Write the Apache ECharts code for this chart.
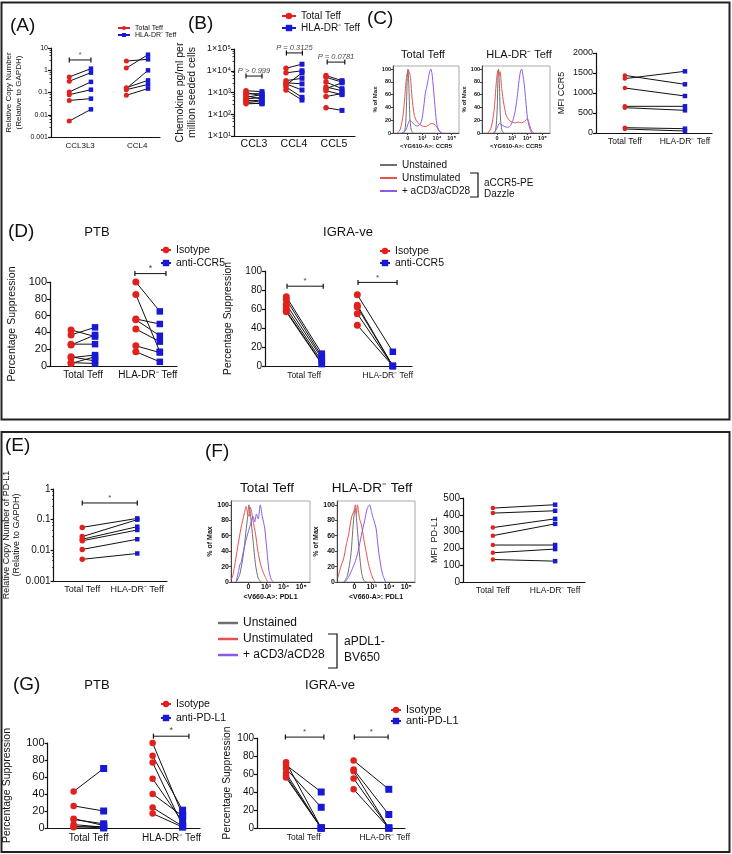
<!DOCTYPE html>
<html><head><meta charset="utf-8">
<script src="https://cdn.jsdelivr.net/npm/echarts@6/dist/echarts.min.js"></script>
<style>html,body{margin:0;padding:0;background:#fff}#c{width:732px;height:854px}</style>
</head><body><div id="c"></div>
<script>
// ---------------- DATA ----------------
const catA = ['CCL3L3', 'CCL4'];
const aCCL3L3Total = [0.50, 0.32, 0.105, 0.08, 0.044, 0.0052];
const aCCL3L3HLA   = [1.18, 0.78, 0.30, 0.134, 0.053, 0.0175];
const aCCL4Total   = [2.6, 1.26, 0.165, 0.15, 0.134, 0.075];
const aCCL4HLA     = [3.1, 5.0, 0.35, 0.99, 0.23, 0.15];

const catB = ['CCL3', 'CCL4', 'CCL5'];
const bCCL3Total = [1200, 1000, 850, 700, 600, 500, 450, 400, 350, 300];
const bCCL3HLA   = [1100, 700, 900, 500, 800, 600, 350, 450, 300, 320];
const bCCL4Total = [13000, 8000, 3500, 2800, 2500, 2200, 1800, 1300];
const bCCL4HLA   = [20000, 10000, 4500, 2500, 1300, 8000, 600, 450];
const bCCL5Total = [6000, 5000, 3000, 1800, 1500, 1200, 650, 200];
const bCCL5HLA   = [3500, 3000, 1500, 1200, 2800, 800, 900, 150];
const bPText = ['P > 0.999', 'P = 0.3125', 'P = 0.0781'];

const catTeff = ['Total Teff', 'HLA-DR⁻ Teff'];
const cMfiTotal = [1440, 1360, 1125, 667, 633, 133, 100];
const cMfiHLA   = [1217, 1542, 925, 667, 567, 108, 50];

const histTicks = ['0', '10³', '10⁴', '10⁵'];
const cTotGray   = [[0.6,0],[0.8,3],[0.9,30],[0.97,85],[1.02,100],[1.08,75],[1.15,25],[1.25,4],[1.4,0]];
const cTotRed    = [[0.3,0],[0.5,6],[0.7,30],[0.85,70],[0.95,92],[1.05,98],[1.12,95],[1.2,85],[1.3,55],[1.45,28],[1.6,19],[1.8,14],[2.0,11],[2.2,10],[2.4,12],[2.6,15],[2.8,14],[3.0,9],[3.15,3],[3.3,0]];
const cTotPurple = [[0.7,0],[0.9,6],[1.05,16],[1.15,20],[1.3,17],[1.5,12],[1.7,11],[1.9,16],[2.0,25],[2.1,42],[2.2,62],[2.3,72],[2.4,84],[2.5,96],[2.58,100],[2.66,93],[2.75,72],[2.85,45],[2.95,20],[3.05,8],[3.2,2],[3.35,0]];
const cHlaGray   = [[0.75,0],[0.9,4],[1.0,35],[1.06,90],[1.1,100],[1.15,75],[1.22,25],[1.32,4],[1.45,0]];
const cHlaRed    = [[0.4,0],[0.6,8],[0.8,35],[0.95,80],[1.05,98],[1.12,90],[1.2,96],[1.3,70],[1.45,45],[1.6,28],[1.8,20],[2.0,17],[2.2,16],[2.4,17],[2.6,16],[2.8,18],[3.0,22],[3.15,12],[3.3,3],[3.45,0]];
const cHlaPurple = [[0.8,0],[1.0,8],[1.15,15],[1.3,13],[1.5,10],[1.7,9],[1.9,12],[2.05,20],[2.2,35],[2.35,60],[2.45,82],[2.55,97],[2.62,100],[2.7,92],[2.8,75],[2.9,50],[3.0,25],[3.15,8],[3.3,0]];

const dPtbTotalIso  = [43, 37, 26, 25, 11, 10, 4, 3];
const dPtbTotalAnti = [35, 46, 26, 37, 6, 13, 3, 11];
const dPtbHlaIso    = [100, 85, 56, 55, 44, 24, 17];
const dPtbHlaAnti   = [65, 17, 50, 36, 29, 16, 5];
const dIgraTotalIso  = [73, 70, 65, 61, 58, 57];
const dIgraTotalAnti = [13, 10, 8, 5, 3, 2];
const dIgraHlaIso    = [75, 64, 62, 55, 43];
const dIgraHlaAnti   = [15, 0, 0, 0, 0];

const eTotal = [0.056, 0.028, 0.023, 0.0205, 0.0107, 0.0051];
const eHLA   = [0.11, 0.10, 0.059, 0.046, 0.023, 0.0079];

const fTotGray   = [[0.3,0],[0.5,10],[0.7,35],[0.85,65],[0.95,85],[1.02,100],[1.12,85],[1.25,55],[1.4,22],[1.55,5],[1.7,0]];
const fTotRed    = [[0.0,3],[0.1,8],[0.2,20],[0.38,45],[0.57,70],[0.77,90],[0.86,98],[0.95,88],[1.02,85],[1.1,97],[1.18,90],[1.25,80],[1.4,62],[1.53,40],[1.72,20],[1.92,8],[2.1,0]];
const fTotPurple = [[0.29,0],[0.44,15],[0.5,22],[0.57,25],[0.71,40],[0.86,55],[1.05,70],[1.15,78],[1.25,85],[1.35,78],[1.45,88],[1.55,82],[1.67,100],[1.78,85],[1.92,70],[2.05,40],[2.16,15],[2.3,3],[2.43,0]];
const fHlaGray   = [[0.4,0],[0.6,8],[0.8,35],[0.92,70],[1.0,90],[1.06,95],[1.15,75],[1.28,40],[1.42,12],[1.55,2],[1.7,0]];
const fHlaRed    = [[0.05,5],[0.1,10],[0.25,22],[0.38,30],[0.55,50],[0.66,60],[0.85,85],[0.98,92],[1.05,100],[1.12,88],[1.18,100],[1.3,82],[1.4,75],[1.55,55],[1.69,38],[1.85,20],[2.06,5],[2.2,0]];
const fHlaPurple = [[0.47,0],[0.7,8],[0.94,20],[1.1,30],[1.22,40],[1.4,60],[1.6,80],[1.74,95],[1.88,100],[2.0,90],[2.1,82],[2.25,70],[2.4,40],[2.52,22],[2.63,10],[2.8,0]];
const fMfiTotal = [440, 410, 324, 276, 220, 174, 134];
const fMfiHLA   = [460, 424, 376, 346, 220, 196, 124];

const gPtbTotalIso  = [43, 26, 11, 10, 4, 2, 1];
const gPtbTotalAnti = [70, 20, 3, 5, 1, 0, 2];
const gPtbHlaIso    = [100, 85, 77, 58, 40, 24, 17];
const gPtbHlaAnti   = [15, 21, 3, 7, 14, 2, 1];
const gIgraTotalIso  = [73, 70, 66, 61, 58, 56];
const gIgraTotalAnti = [0, 40, 23, 0, 0, 0];
const gIgraHlaIso    = [75, 65, 63, 55, 43];
const gIgraHlaAnti   = [43, 15, 0, 0, 0];

// ---------------- STYLE / HELPERS ----------------
const RED = '#e3211c', BLUE = '#1818d6', INK = '#111';
const H_GRAY = '#6f6f6f', H_RED = '#e5534f', H_PURPLE = '#8c5ae6';
const FONT = '"Liberation Sans", Arial, Helvetica, sans-serif';
const sup = {'1':'¹','2':'²','3':'³','4':'⁴','5':'⁵'};
const decFmt = v => { const e = Math.round(Math.log10(v)); return e >= 0 ? String(Math.pow(10, e)) : '0.' + '0'.repeat(-e - 1) + '1'; };
const sciFmt = v => '1×10' + sup[String(Math.round(Math.log10(v)))];
const plainFmt = v => String(v);

const grids = [], xAxes = [], yAxes = [], series = [];
function addGrid(g, xa, ya) {
  grids.push(Object.assign({ containLabel: false }, g));
  const i = grids.length - 1;
  xAxes.push(Object.assign({ gridIndex: i }, xa));
  yAxes.push(Object.assign({ gridIndex: i }, ya));
  return i;
}
const axLine = { show: true, lineStyle: { color: INK, width: 1.2 } };
function catX(min, max, labels, pos, fs, margin) {
  return { type: 'value', min, max, axisLine: axLine, axisTick: { show: false }, splitLine: { show: false },
    axisLabel: { customValues: pos, fontSize: fs, color: INK, fontFamily: FONT, margin: margin,
      formatter: v => { const k = pos.findIndex(p => Math.abs(p - v) < 1e-6); return k >= 0 ? labels[k] : ''; } } };
}
function linY(max, interval, fs, name, gap, nfs) {
  return { type: 'value', min: 0, max, interval, axisLine: axLine, splitLine: { show: false },
    axisTick: { show: true, length: 3, lineStyle: { color: INK, width: 1.2 } },
    axisLabel: { fontSize: fs, color: INK, fontFamily: FONT, margin: 3, formatter: plainFmt },
    name, nameLocation: 'middle', nameRotate: 90, nameGap: gap,
    nameTextStyle: { fontSize: nfs, color: INK, fontFamily: FONT, lineHeight: nfs * 1.15 } };
}
function logY(min, max, fmt, fs, name, gap, nfs) {
  return { type: 'log', logBase: 10, min, max, axisLine: axLine, splitLine: { show: false },
    axisTick: { show: true, length: 3, lineStyle: { color: INK, width: 1.2 } },
    minorTick: { show: true, splitNumber: 5, length: 1.5, lineStyle: { color: INK, width: 0.8 } },
    axisLabel: { fontSize: fs, color: INK, fontFamily: FONT, margin: 3, formatter: fmt },
    name, nameLocation: 'middle', nameRotate: 90, nameGap: gap,
    nameTextStyle: { fontSize: nfs, color: INK, fontFamily: FONT, lineHeight: nfs * 1.15 } };
}
function histX(fs, name, gap, nfs) {
  const pos = [1, 2, 3, 4];
  return { type: 'value', min: 0, max: 4.5, axisLine: { show: true, lineStyle: { color: '#444', width: 1 } }, splitLine: { show: false },
    axisTick: { show: true, customValues: pos, length: 2, lineStyle: { color: '#444' } },
    axisLabel: { customValues: pos, fontSize: fs, fontWeight: 'bold', color: INK, fontFamily: FONT, margin: 2,
      formatter: v => histTicks[Math.round(v) - 1] || '' },
    name, nameLocation: 'middle', nameGap: gap, nameTextStyle: { fontSize: nfs, fontWeight: 'bold', color: INK, fontFamily: FONT } };
}
function histY(fs, gap, nfs) {
  const pos = [0, 20, 40, 60, 80, 100];
  return { type: 'value', min: 0, max: 105, axisLine: { show: true, lineStyle: { color: '#444', width: 1 } }, splitLine: { show: false },
    axisTick: { show: true, customValues: pos, length: 2, lineStyle: { color: '#444' } },
    axisLabel: { customValues: pos, fontSize: fs, fontWeight: 'bold', color: INK, fontFamily: FONT, margin: 2 },
    name: '% of Max', nameLocation: 'middle', nameRotate: 90, nameGap: gap,
    nameTextStyle: { fontSize: nfs, fontWeight: 'bold', color: INK, fontFamily: FONT } };
}
function paired(gi, cat, reds, blues, d, rs, bs) {
  reds.forEach((r, i) => {
    series.push({ type: 'line', xAxisIndex: gi, yAxisIndex: gi, data: [[cat - d, r], [cat + d, blues[i]]],
      symbol: 'none', lineStyle: { color: INK, width: 1 }, silent: true, z: 2, clip: false });
  });
  series.push({ type: 'scatter', xAxisIndex: gi, yAxisIndex: gi, data: reds.map(v => [cat - d, v]),
    symbol: 'circle', symbolSize: rs, itemStyle: { color: RED, opacity: 1 }, z: 3, silent: true, clip: false });
  series.push({ type: 'scatter', xAxisIndex: gi, yAxisIndex: gi, data: blues.map(v => [cat + d, v]),
    symbol: 'rect', symbolSize: bs, itemStyle: { color: BLUE, opacity: 1 }, z: 4, silent: true, clip: false });
}
function sig(gi, x1, x2, y, text, fs, italic) {
  series.push({ type: 'line', xAxisIndex: gi, yAxisIndex: gi, data: [[x1, y], [x2, y]], symbol: 'rect', symbolSize: [1.2, 5],
    itemStyle: { color: INK }, lineStyle: { color: INK, width: 1 }, clip: false, silent: true, z: 5 });
  series.push({ type: 'scatter', xAxisIndex: gi, yAxisIndex: gi, data: [[(x1 + x2) / 2, y]], symbolSize: 0,
    itemStyle: { color: 'transparent' }, clip: false, silent: true, z: 5,
    label: { show: true, position: 'top', distance: 1, formatter: text, fontSize: fs, color: INK, fontFamily: FONT,
      fontStyle: italic ? 'italic' : 'normal' } });
}
function hist(gi, data, color, name) {
  series.push({ type: 'line', name, xAxisIndex: gi, yAxisIndex: gi, data, symbol: 'none', smooth: 0.25,
    lineStyle: { color, width: 1 }, itemStyle: { color }, silent: true, z: 2 });
}

// ---------------- PANELS ----------------
// A
const gA = addGrid({ left: 51, top: 48, width: 109, height: 89 },
  catX(0.49, 2.4, catA, [1, 2], 8, 5),
  logY(0.001, 10, decFmt, 7, 'Relative Copy Number\n(Relative to GAPDH)', 28, 8));
paired(gA, 1, aCCL3L3Total, aCCL3L3HLA, 0.19, 5, 4.5);
paired(gA, 2, aCCL4Total, aCCL4HLA, 0.19, 5, 4.5);
sig(gA, 0.81, 1.19, 2.9, '*', 7, false);

// B
const gB = addGrid({ left: 234, top: 49, width: 121, height: 87 },
  catX(0.5, 3.525, catB, [1, 2, 3], 10.5, 3),
  logY(10, 100000, sciFmt, 9, 'Chemokine pg/ml per\nmillion seeded cells', 36, 10.5));
paired(gB, 1, bCCL3Total, bCCL3HLA, 0.2, 5.5, 5);
paired(gB, 2, bCCL4Total, bCCL4HLA, 0.2, 5.5, 5);
paired(gB, 3, bCCL5Total, bCCL5HLA, 0.2, 5.5, 5);
sig(gB, 0.8, 1.2, 5700, bPText[0], 7.5, true);
sig(gB, 1.81, 2.21, 66000, bPText[1], 7.5, true);
sig(gB, 2.83, 3.27, 25000, bPText[2], 7.5, true);

// C histograms
const gC1 = addGrid({ left: 393, top: 66, width: 66, height: 67, show: true, borderColor: '#aaa', borderWidth: 1 },
  histX(5.5, '<YG610-A>: CCR5', 10, 6), histY(5.5, 14, 6));
hist(gC1, cTotGray, H_GRAY, 'Unstained'); hist(gC1, cTotRed, H_RED, 'Unstimulated'); hist(gC1, cTotPurple, H_PURPLE, '+ aCD3/aCD28');
const gC2 = addGrid({ left: 482, top: 66, width: 68, height: 67, show: true, borderColor: '#aaa', borderWidth: 1 },
  histX(5.5, '<YG610-A>: CCR5', 10, 6), histY(5.5, 14, 6));
hist(gC2, cHlaGray, H_GRAY, 'Unstained'); hist(gC2, cHlaRed, H_RED, 'Unstimulated'); hist(gC2, cHlaPurple, H_PURPLE, '+ aCD3/aCD28');

// C MFI
const gC3 = addGrid({ left: 596, top: 53, width: 116, height: 80 },
  catX(0.52, 2.45, catTeff, [1, 2], 8.5, 4),
  linY(2000, 500, 9, 'MFI CCR5', 29, 9));
paired(gC3, 1.5, cMfiTotal, cMfiHLA, 0.5, 4.5, 4.5);

// D PTB
const gD1 = addGrid({ left: 50, top: 282, width: 127, height: 84 },
  catX(0.49, 2.45, catTeff, [1, 2], 10, 4),
  linY(100, 20, 11, 'Percentage Suppression', 32, 10.5));
paired(gD1, 1, dPtbTotalIso, dPtbTotalAnti, 0.185, 7, 6.5);
paired(gD1, 2, dPtbHlaIso, dPtbHlaAnti, 0.185, 7, 6.5);
sig(gD1, 1.8, 2.28, 110, '*', 9, false);

// D IGRA
const gD2 = addGrid({ left: 265, top: 271, width: 147, height: 95 },
  catX(0.45, 2.52, catTeff, [1, 2.18], 8.5, 5),
  linY(100, 20, 10, 'Percentage Suppression', 31, 10.3));
paired(gD2, 1, dIgraTotalIso, dIgraTotalAnti, 0.25, 7, 6.5);
paired(gD2, 2, dIgraHlaIso, dIgraHlaAnti, 0.25, 7, 6.5);
sig(gD2, 0.76, 1.27, 84, '*', 8, false);
sig(gD2, 1.76, 2.31, 88, '*', 8, false);

// E
const gE = addGrid({ left: 52, top: 489, width: 115, height: 92 },
  catX(0.48, 2.54, catTeff, [1, 2], 9, 4),
  logY(0.001, 1, decFmt, 10, 'Relative Copy Number of PD-L1\n(Relative to GAPDH)', 30, 9));
paired(gE, 1.5, eTotal, eHLA, 0.5, 5.5, 4.5);
sig(gE, 1, 2, 0.35, '*', 8, false);

// F histograms
const gF1 = addGrid({ left: 231, top: 501, width: 79, height: 81, show: true, borderColor: '#aaa', borderWidth: 1 },
  histX(7, '<V660-A>: PDL1', 11.5, 7), histY(7, 15.5, 7));
hist(gF1, fTotGray, H_GRAY, 'Unstained'); hist(gF1, fTotRed, H_RED, 'Unstimulated'); hist(gF1, fTotPurple, H_PURPLE, '+ aCD3/aCD28');
const gF2 = addGrid({ left: 337, top: 501, width: 78, height: 81, show: true, borderColor: '#aaa', borderWidth: 1 },
  histX(7, '<V660-A>: PDL1', 11.5, 7), histY(7, 15.5, 7));
hist(gF2, fHlaGray, H_GRAY, 'Unstained'); hist(gF2, fHlaRed, H_RED, 'Unstimulated'); hist(gF2, fHlaPurple, H_PURPLE, '+ aCD3/aCD28');

// F MFI
const gF3 = addGrid({ left: 463, top: 498, width: 122, height: 84 },
  catX(0.52, 2.48, catTeff, [1, 2], 8.5, 4),
  linY(500, 100, 10, 'MFI  PD-L1', 21.5, 9));
paired(gF3, 1.5, fMfiTotal, fMfiHLA, 0.5, 4.5, 4.5);

// G PTB
const gG1 = addGrid({ left: 47, top: 743, width: 153, height: 85 },
  catX(0.48, 2.41, catTeff, [1, 2.05], 10, 5),
  linY(100, 20, 11, 'Percentage Suppression', 34.5, 10.5));
paired(gG1, 1, gPtbTotalIso, gPtbTotalAnti, 0.19, 6.5, 7);
paired(gG1, 2, gPtbHlaIso, gPtbHlaAnti, 0.19, 6.5, 7);
sig(gG1, 1.82, 2.27, 108, '*', 9, false);

// G IGRA
const gG2 = addGrid({ left: 257, top: 738, width: 148, height: 90 },
  catX(0.31, 2.5, catTeff, [1, 2.2], 8.5, 5),
  linY(100, 20, 10, 'Percentage Suppression', 23, 10.3));
paired(gG2, 1, gIgraTotalIso, gIgraTotalAnti, 0.26, 6.5, 7);
paired(gG2, 2, gIgraHlaIso, gIgraHlaAnti, 0.26, 6.5, 7);
sig(gG2, 0.73, 1.3, 101, '*', 8, false);
sig(gG2, 1.75, 2.25, 101, '*', 8, false);

// legend dummy series
function dummy(name, color, symbol) {
  series.push({ type: 'line', name, xAxisIndex: gC3, yAxisIndex: gC3, data: [], symbol, symbolSize: 6,
    itemStyle: { color }, lineStyle: { color, width: 1.5 } });
}
dummy('Total Teff', RED, 'circle'); dummy('HLA-DR⁻ Teff', BLUE, 'rect');
dummy('Isotype', RED, 'circle'); dummy('anti-CCR5', BLUE, 'rect'); dummy('anti-PD-L1', BLUE, 'rect');

function leg(left, top, names, fs, iw, ih, gap, icon) {
  const o = { left, top, orient: 'vertical', itemWidth: iw, itemHeight: ih, itemGap: gap, padding: 0, selectedMode: false,
    textStyle: { fontSize: fs, lineHeight: fs, color: INK, fontFamily: FONT }, data: names };
  if (icon) o.icon = icon;
  return o;
}
const legends = [
  leg(117, 24.5, ['Total Teff', 'HLA-DR⁻ Teff'], 7, 12, 5, 0),
  leg(281, 11, ['Total Teff', 'HLA-DR⁻ Teff'], 10, 14, 8, 2),
  leg(380, 160, ['Unstained', 'Unstimulated', '+ aCD3/aCD28'], 10, 17, 2, 3, 'rect'),
  leg(160, 244.5, ['Isotype', 'anti-CCR5'], 10.5, 10, 8, 2),
  leg(379, 245.5, ['Isotype', 'anti-CCR5'], 10.5, 10, 8, 1),
  leg(218, 617, ['Unstained', 'Unstimulated', '+ aCD3/aCD28'], 12, 20, 2.5, 4, 'rect'),
  leg(160, 698.5, ['Isotype', 'anti-PD-L1'], 10.5, 10, 8, 3),
  leg(390, 704.5, ['Isotype', 'anti-PD-L1'], 11, 10, 8, 0)
];

// ---------------- ANNOTATIONS ----------------
function txt(x, y, text, fs, align) {
  return { type: 'text', x, y, silent: true, style: { text, fontSize: fs, fontFamily: FONT, fill: INK, align: align || 'left', verticalAlign: 'middle' } };
}
const graphic = [
  { type: 'rect', silent: true, shape: { x: 1.5, y: 2.5, width: 728, height: 417 }, style: { fill: 'none', stroke: '#222', lineWidth: 2 } },
  { type: 'rect', silent: true, shape: { x: 1.5, y: 432, width: 728, height: 420 }, style: { fill: 'none', stroke: '#222', lineWidth: 2 } },
  txt(10, 26, '(A)', 19), txt(188, 23.5, '(B)', 19), txt(367, 19, '(C)', 19),
  txt(8, 232, '(D)', 19), txt(97, 232, 'PTB', 13, 'center'), txt(348, 232, 'IGRA-ve', 13, 'center'),
  txt(5, 446, '(E)', 19), txt(205, 452, '(F)', 19),
  txt(13, 685, '(G)', 19), txt(97, 685, 'PTB', 13, 'center'), txt(330, 685, 'IGRA-ve', 13, 'center'),
  txt(423, 55, 'Total Teff', 11, 'center'), txt(519, 55, 'HLA-DR⁻ Teff', 11, 'center'),
  txt(267, 488, 'Total Teff', 13.5, 'center'), txt(372, 488, 'HLA-DR⁻ Teff', 13.5, 'center'),
  { type: 'polyline', silent: true, shape: { points: [[470, 173], [478, 173], [478, 197], [470, 197]] }, style: { fill: 'none', stroke: INK, lineWidth: 1.2 } },
  txt(484, 183, 'aCCR5-PE', 10), txt(484, 194, 'Dazzle', 10),
  { type: 'polyline', silent: true, shape: { points: [[328, 634], [337, 634], [337, 668], [328, 668]] }, style: { fill: 'none', stroke: INK, lineWidth: 1.2 } },
  txt(344, 642, 'aPDL1-', 12), txt(344, 658, 'BV650', 12)
];

const chart = echarts.init(document.getElementById('c'), null, { renderer: 'canvas' });
chart.setOption({
  animation: false, backgroundColor: '#fff',
  textStyle: { fontFamily: FONT },
  grid: grids, xAxis: xAxes, yAxis: yAxes, legend: legends, series, graphic
});
</script></body></html>
